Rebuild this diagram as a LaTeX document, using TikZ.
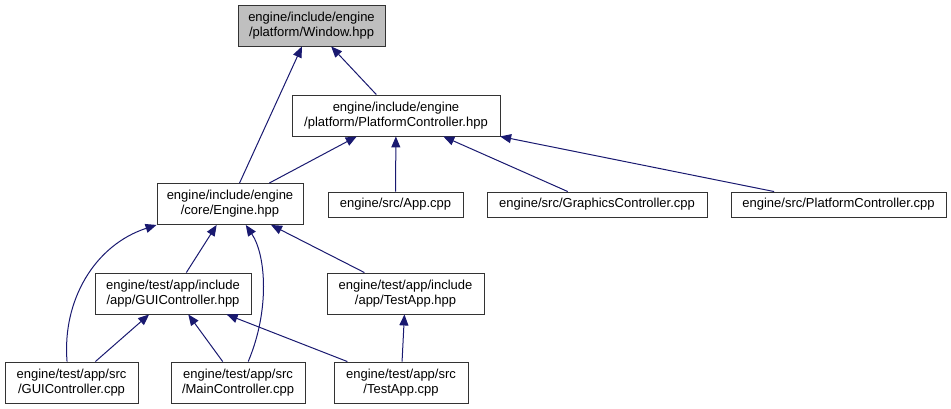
\documentclass[tikz,border=0pt]{standalone}
\usepackage{fontspec}
\setmainfont{Liberation Sans}
\usetikzlibrary{arrows.meta}
\definecolor{edgeblue}{HTML}{191970}

\begin{document}
\begin{tikzpicture}[x=1pt, y=-1pt,
	file/.style={draw=black!80, line width=0.9pt, fill=white, inner sep=0pt, align=center,
		font=\fontsize{13}{15}\selectfont, minimum height=41pt},
	single/.style={file, minimum height=25pt},
	edge/.style={draw=edgeblue, line width=1pt, -{Triangle[length=11pt, width=9pt]}}]
	\useasboundingbox (0,0) rectangle (951,409);
	% top: the header itself
	\node[file, fill=black!25, minimum width=147pt] (window) at (311.5,25.5) {engine/include/engine\\/platform/Window.hpp};
	\node[file, minimum width=208pt] (pch) at (396,115.5) {engine/include/engine\\/platform/PlatformController.hpp};
	% second row
	\node[file, minimum width=146pt] (engine) at (230,204) {engine/include/engine\\/core/Engine.hpp};
	\node[single, minimum width=135pt] (app) at (395.5,204.5) {engine/src/App.cpp};
	\node[single, minimum width=220pt] (gfx) at (597,204.5) {engine/src/GraphicsController.cpp};
	\node[single, minimum width=215pt] (pcc) at (838.5,204.5) {engine/src/PlatformController.cpp};
	% test app headers
	\node[file, minimum width=156pt] (guih) at (173,293.5) {engine/test/app/include\\/app/GUIController.hpp};
	\node[file, minimum width=157pt] (testh) at (405.5,293.5) {engine/test/app/include\\/app/TestApp.hpp};
	% test app sources
	\node[file, minimum width=133pt] (guic) at (71.5,382.5) {engine/test/app/src\\/GUIController.cpp};
	\node[file, minimum width=134pt] (mainc) at (238,382.5) {engine/test/app/src\\/MainController.cpp};
	\node[file, minimum width=134pt] (testc) at (401,382.5) {engine/test/app/src\\/TestApp.cpp};
	% includes
	\draw[edge] (engine) -- (window);
	\draw[edge] (pch) -- (window);
	\draw[edge] (engine) -- (pch);
	\draw[edge] (app) -- (pch);
	\draw[edge] (gfx) -- (pch);
	\draw[edge] (pcc) -- (pch);
	\draw[edge] (guih) -- (engine);
	\draw[edge] (testh) -- (engine);
	\draw[edge] (guic.102) .. controls (62,300) and (95,245) .. (engine.south west);
	\draw[edge] (mainc.64) .. controls (270,310) and (266,255) .. (engine.-53);
	\draw[edge] (guic) -- (guih);
	\draw[edge] (mainc) -- (guih);
	\draw[edge] (testc) -- (guih);
	\draw[edge] (testc) -- (testh);
\end{tikzpicture}
\end{document}
